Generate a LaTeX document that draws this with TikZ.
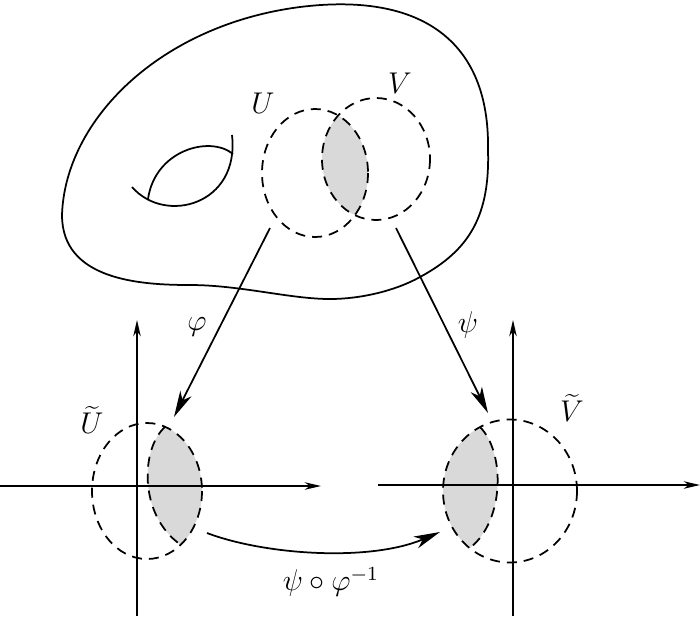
\documentclass[tikz,border=0pt]{standalone}
\usetikzlibrary{arrows.meta}
\begin{document}
\begin{tikzpicture}[x=0.4pt,y=-0.4pt,line width=0.7pt,
  dsh/.style={dash pattern=on 4pt off 2.8pt},
  axisarrow/.style={-{Stealth[length=6.5pt,width=3pt,inset=2pt]}},
  maparrow/.style={-{Stealth[length=10.5pt,width=5pt,inset=3pt]}},
  lbl/.style={font=\fontsize{11.5}{14}\selectfont,inner sep=0pt}]
\useasboundingbox (0,0) rectangle (700,616);

% surface
\draw (62,215) .. controls (65,120) and (160,25) .. (300,7)
  .. controls (420,-8) and (490,40) .. (488,150)
  .. controls (490,215) and (470,250) .. (420,277)
  .. controls (395,291) and (360,299) .. (330,299)
  .. controls (290,299) and (240,285) .. (190,285)
  .. controls (140,285) and (62,280) .. (62,215) -- cycle;
% handle
\draw (132,187) .. controls (165,225) and (240,205) .. (232,135);
\draw (148,199) .. controls (155,150) and (210,135) .. (233,154);

% U and V on the surface
\coordinate (cU) at (315,173);
\coordinate (cV) at (376,159);
\begin{scope}
  \clip (cU) ellipse [x radius=53,y radius=64];
  \fill[gray!30] (cV) ellipse [x radius=54,y radius=61];
\end{scope}
\draw[dsh] (cU) ellipse [x radius=53,y radius=64];
\draw[dsh] (cV) ellipse [x radius=54,y radius=61];

% U tilde chart
\coordinate (cUt) at (147,491);
\coordinate (tUt) at (165,427);
\coordinate (bUt) at (181,545);
\begin{scope}
  \clip (cUt) ellipse [x radius=55,y radius=68];
  \fill[gray!30] (tUt) .. controls (141,448) and (138,515) .. (bUt) -- (260,545) -- (260,427) -- cycle;
\end{scope}
\draw[dsh] (cUt) ellipse [x radius=55,y radius=68];
\draw[dsh] (tUt) .. controls (141,448) and (138,515) .. (bUt);

% V tilde chart
\coordinate (cVt) at (510,491);
\coordinate (tVt) at (480,427);
\coordinate (bVt) at (470,548);
\begin{scope}
  \clip (cVt) ellipse [x radius=67,y radius=71.5];
  \fill[gray!30] (tVt) .. controls (505,452) and (505,520) .. (bVt) -- (400,548) -- (400,427) -- cycle;
\end{scope}
\draw[dsh] (cVt) ellipse [x radius=67,y radius=71.5];
\draw[dsh] (tVt) .. controls (505,452) and (505,520) .. (bVt);

% axes
\coordinate (lyB) at (137,616); \coordinate (lyT) at (137,320);
\coordinate (lxL) at (0,486);   \coordinate (lxR) at (321,486);
\coordinate (ryB) at (513,616); \coordinate (ryT) at (513,320);
\coordinate (rxL) at (378,485); \coordinate (rxR) at (700,485);
\draw[axisarrow] (lyB) -- (lyT);
\draw[axisarrow] (lxL) -- (lxR);
\draw[axisarrow] (ryB) -- (ryT);
\draw[axisarrow] (rxL) -- (rxR);

% maps
\coordinate (phiS) at (270,228); \coordinate (phiE) at (174,417);
\coordinate (psiS) at (396,228); \coordinate (psiE) at (488,413);
\coordinate (trS) at (207,533);  \coordinate (trE) at (440,532);
\draw[maparrow] (phiS) -- (phiE);
\draw[maparrow] (psiS) -- (psiE);
\draw[maparrow] (trS) .. controls (265,555) and (370,562) .. (trE);

% labels
\node[lbl] (lU) at (263,103) {$U$};
\node[lbl] (lV) at (400,83) {$V$};
\node[lbl] (lUt) at (92,420) {$\widetilde{U}$};
\node[lbl] (lVt) at (572,408) {$\widetilde{V}$};
\node[lbl] (lphi) at (197,327) {$\varphi$};
\node[lbl] (lpsi) at (468,325) {$\psi$};
\node[lbl] (ltr) at (331,582) {$\psi\circ\varphi^{-1}$};
\end{tikzpicture}
\end{document}
